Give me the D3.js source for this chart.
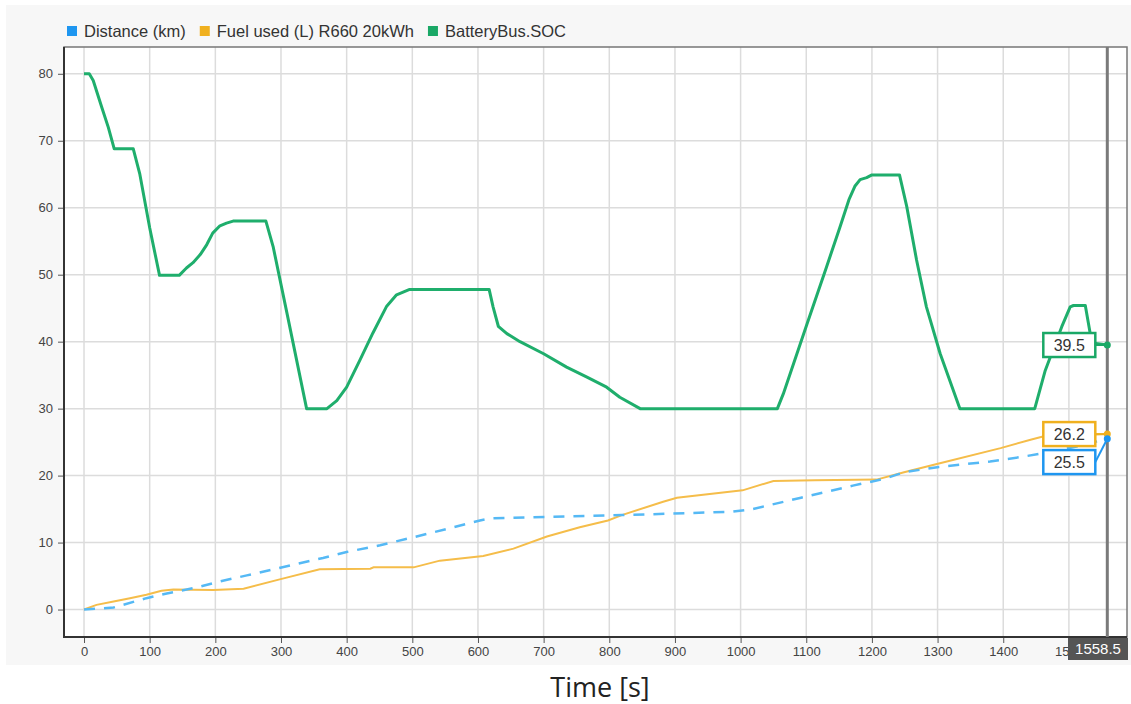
<!DOCTYPE html>
<html>
<head>
<meta charset="utf-8">
<script src="https://cdn.jsdelivr.net/npm/d3@7"></script>
<style>
  body { margin: 0; background: #fff; }
  svg { display: block; }
</style>
</head>
<body>
<svg id="chart"></svg>
<script>
// values
var timeSoc = [0, 8, 14, 27, 37, 46, 75, 85, 100, 115, 145, 156, 166, 177, 187, 196, 207, 217, 227, 277, 288, 309, 339,
    370, 385, 400, 420, 440, 461, 476, 496, 617, 623, 631, 644, 664, 700, 735, 766, 796, 816, 847, 1056, 1065, 1101,
    1131, 1151, 1165, 1174, 1182, 1192, 1200, 1242, 1253, 1268, 1283, 1304, 1334, 1448, 1464, 1489, 1502, 1507, 1525,
    1535, 1558.5];
var soc = [80, 80, 79, 75, 72, 68.8, 68.8, 65, 57, 49.9, 49.9, 51, 51.8, 53, 54.5, 56.2, 57.3, 57.7, 58, 58, 54.2, 44.3, 30,
    30, 31.2, 33.2, 37.2, 41.3, 45.3, 47, 47.8, 47.8, 45.2, 42.3, 41.2, 40, 38.2, 36.2, 34.7, 33.2, 31.7, 30, 30, 32.2, 42.6,
    51.2, 57, 61.2, 63.2, 64.2, 64.5, 64.9, 64.9, 60.2, 52.2, 45.2, 38.2, 30, 30, 35.7, 42.2, 45.2, 45.4, 45.4,
    39.8, 39.5];

var timeFuel = [0, 19, 45, 70, 95, 118, 136, 197, 243, 298, 359, 436, 441, 502, 542, 608, 654, 705, 755, 798, 819, 882,
    903, 1003, 1050, 1113, 1207, 1249, 1302, 1396, 1443, 1459, 1500, 1558.5];
var fuel = [0, 0.7, 1.2, 1.7, 2.2, 2.8, 3.0, 2.9, 3.1, 4.5, 6.0, 6.1, 6.3, 6.3, 7.3, 8.0, 9.1, 10.9, 12.3, 13.3, 14.1, 16.1,
    16.7, 17.8, 19.2, 19.3, 19.4, 20.5, 21.8, 24.1, 25.4, 25.8, 26.0, 26.2];

var timeDist = [0, 45, 95, 126, 172, 207, 248, 288, 364, 400, 451, 527, 603, 618, 735, 819, 987, 1018, 1092, 1171, 1218,
    1249, 1302, 1380, 1428, 1459, 1510, 1558.5];
var dist = [0, 0.3, 1.7, 2.4, 3.3, 4.2, 5.1, 6.0, 7.7, 8.6, 9.6, 11.4, 13.3, 13.6, 13.9, 14.1, 14.6, 15.0, 16.7, 18.5, 19.5,
    20.5, 21.3, 22.1, 22.8, 23.3, 24.3, 25.5];

var seriesNames = ['Distance (km)', 'Fuel used (L) R660 20kWh', 'BatteryBus.SOC'];
var legendColors = ['#1e96f0', '#f0b01e', '#1aa866'];
var lineColors = ['#55b9f5', '#f5bd4a', '#1fae6c'];
var xTicks = d3.range(0, 1600, 100);
var yTicks = d3.range(0, 90, 10);
var cursorTime = 1558.5;
var cursorValues = [25.5, 26.2, 39.5];
var xTitle = 'Time [s]';

var width = 1131, height = 704;
var plot = { left: 64, top: 47, right: 1127, bottom: 637 };

var svg = d3.select('#chart').attr('width', width).attr('height', height);

var x = d3.scaleLinear().domain([-30.5, 1588.5]).range([plot.left, plot.right]);
var y = d3.scaleLinear().domain([-4.1, 84]).range([plot.bottom, plot.top]);

// grey panel behind the chart
svg.append('rect')
    .attr('x', 6).attr('y', 5)
    .attr('width', width - 6).attr('height', 660)
    .attr('fill', '#f7f7f7');

svg.append('rect')
    .attr('x', plot.left).attr('y', plot.top)
    .attr('width', plot.right - plot.left).attr('height', plot.bottom - plot.top)
    .attr('fill', '#fff');

// grid
svg.append('g')
    .selectAll('line')
    .data(xTicks)
    .enter()
    .append('line')
    .attr('x1', function (d) { return x(d); })
    .attr('x2', function (d) { return x(d); })
    .attr('y1', plot.top).attr('y2', plot.bottom)
    .attr('stroke', '#dcdcdc').attr('stroke-width', 1.5);

svg.append('g')
    .selectAll('line')
    .data(yTicks)
    .enter()
    .append('line')
    .attr('x1', plot.left).attr('x2', plot.right)
    .attr('y1', function (d) { return y(d); })
    .attr('y2', function (d) { return y(d); })
    .attr('stroke', '#dcdcdc').attr('stroke-width', 1.5);

// axes
var xAxis = svg.append('g')
    .attr('transform', 'translate(0,' + plot.bottom + ')')
    .call(d3.axisBottom(x).tickValues(xTicks).tickFormat(d3.format('d')).tickSize(6).tickPadding(4));
var yAxis = svg.append('g')
    .attr('transform', 'translate(' + plot.left + ',0)')
    .call(d3.axisLeft(y).tickValues(yTicks).tickFormat(d3.format('d')).tickSize(6).tickPadding(5));

[xAxis, yAxis].forEach(function (g) {
    g.select('.domain').remove();
    g.selectAll('.tick line').attr('stroke', '#555');
    g.selectAll('.tick text')
        .attr('fill', '#444')
        .style('font-family', '"Liberation Sans", Arial, sans-serif')
        .style('font-size', '13px');
});

// frame
svg.append('rect')
    .attr('x', plot.left).attr('y', plot.top)
    .attr('width', plot.right - plot.left).attr('height', plot.bottom - plot.top)
    .attr('fill', 'none').attr('stroke', '#777').attr('stroke-width', 1.5);
svg.append('path')
    .attr('d', 'M' + plot.left + ',' + plot.top + 'V' + plot.bottom + 'H' + plot.right)
    .attr('fill', 'none').attr('stroke', '#333').attr('stroke-width', 2);

// series
var line = d3.line()
    .x(function (d) { return x(d[0]); })
    .y(function (d) { return y(d[1]); });

var distPts = timeDist.map(function (t, i) { return [t, dist[i]]; });
var fuelPts = timeFuel.map(function (t, i) { return [t, fuel[i]]; });
var socPts = timeSoc.map(function (t, i) { return [t, soc[i]]; });

svg.append('path')
    .attr('d', line(fuelPts))
    .attr('fill', 'none')
    .attr('stroke', lineColors[1])
    .attr('stroke-width', 2);

svg.append('path')
    .attr('d', line(distPts))
    .attr('fill', 'none')
    .attr('stroke', lineColors[0])
    .attr('stroke-width', 2.5)
    .attr('stroke-dasharray', '11,9');

svg.append('path')
    .attr('d', line(socPts))
    .attr('fill', 'none')
    .attr('stroke', lineColors[2])
    .attr('stroke-width', 3)
    .attr('stroke-linejoin', 'round');

// cursor
var cx = x(cursorTime);
svg.append('line')
    .attr('x1', cx).attr('x2', cx)
    .attr('y1', plot.top).attr('y2', plot.bottom)
    .attr('stroke', '#7a7a7a').attr('stroke-width', 3);

var cbW = 60, cbH = 22;
var cbX = Math.min(cx - cbW / 2, plot.right + 1 - cbW);
svg.append('rect')
    .attr('x', cbX).attr('y', plot.bottom + 1)
    .attr('width', cbW).attr('height', cbH)
    .attr('fill', '#555');
svg.append('text')
    .attr('x', cbX + cbW / 2).attr('y', plot.bottom + 1 + cbH / 2)
    .attr('dy', '0.35em')
    .attr('text-anchor', 'middle')
    .attr('fill', '#fff')
    .style('font-family', '"Liberation Sans", Arial, sans-serif')
    .style('font-size', '15px')
    .text(cursorTime);

// value boxes at the cursor
var boxW = 52, boxH = 24, boxGap = 12;
var boxCenters = [];
boxCenters[2] = y(cursorValues[2]);
boxCenters[1] = y(cursorValues[1]);
boxCenters[0] = Math.max(y(cursorValues[0]), boxCenters[1] + boxH + 4);

[2, 1, 0].forEach(function (i) {
    var g = svg.append('g');
    var bx = cx - boxGap - boxW;
    g.append('line')
        .attr('x1', bx + boxW).attr('y1', boxCenters[i])
        .attr('x2', cx).attr('y2', y(cursorValues[i]))
        .attr('stroke', legendColors[i]).attr('stroke-width', 2);
    g.append('rect')
        .attr('x', bx).attr('y', boxCenters[i] - boxH / 2)
        .attr('width', boxW).attr('height', boxH)
        .attr('fill', '#fff')
        .attr('stroke', legendColors[i]).attr('stroke-width', 2.5);
    g.append('text')
        .attr('x', bx + boxW / 2).attr('y', boxCenters[i])
        .attr('dy', '0.36em')
        .attr('text-anchor', 'middle')
        .attr('fill', '#333')
        .style('font-family', '"Liberation Sans", Arial, sans-serif')
        .style('font-size', '16px')
        .text(cursorValues[i].toFixed(1));
    g.append('circle')
        .attr('cx', cx).attr('cy', y(cursorValues[i]))
        .attr('r', 3.5)
        .attr('fill', legendColors[i]);
});

// legend
var legend = svg.append('g');
var lx = 67;
seriesNames.forEach(function (name, i) {
    legend.append('rect')
        .attr('x', lx).attr('y', 26)
        .attr('width', 10).attr('height', 10)
        .attr('fill', legendColors[i]);
    var t = legend.append('text')
        .attr('x', lx + 17).attr('y', 37)
        .attr('fill', '#333')
        .style('font-family', '"Liberation Sans", Arial, sans-serif')
        .style('font-size', '16.5px')
        .text(name);
    lx = lx + 17 + t.node().getComputedTextLength() + 14;
});

// axis title
svg.append('text')
    .attr('x', 600).attr('y', 697)
    .attr('text-anchor', 'middle')
    .attr('fill', '#222')
    .style('font-family', '"Open Sans", "Noto Sans", sans-serif')
    .style('font-size', '27px')
    .text(xTitle);
</script>
</body>
</html>
